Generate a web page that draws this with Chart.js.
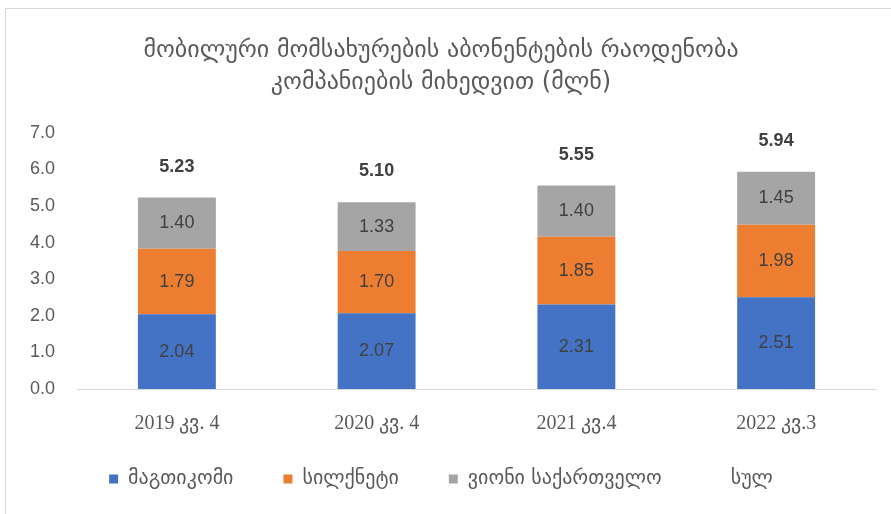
<!DOCTYPE html>
<html>
<head>
<meta charset="utf-8">
<script src="https://cdn.jsdelivr.net/npm/chart.js@4/dist/chart.umd.min.js"></script>
<style>
  html, body { margin: 0; padding: 0; background: #fff; overflow: hidden; }
  #frame { position: absolute; left: 5px; top: 8px; width: 900px; height: 520px; border: 1px solid #d9d9d9; box-sizing: border-box; }
  #wrap { position: absolute; left: 0; top: 0; width: 882px; height: 505px; }
</style>
</head>
<body>
<div id="frame"><div id="wrap"><canvas id="chart"></canvas></div></div>
<script>
var categories = ['2019 კვ. 4', '2020 კვ. 4', '2021 კვ.4', '2022 კვ.3'];
var magticom = [2.04, 2.07, 2.31, 2.51];
var silknet = [1.79, 1.70, 1.85, 1.98];
var veon = [1.40, 1.33, 1.40, 1.45];
var totals = [5.23, 5.10, 5.55, 5.94];
var yTicks = [0, 1, 2, 3, 4, 5, 6, 7];

var textGray = '#595959';
var labelGray = '#404040';
var geo = "'DejaVu Sans', 'Noto Sans', sans-serif";
var legendTrim = 20;

// segment values inside the bars, totals above the stacks
var valueLabels = {
  id: 'valueLabels',
  afterDatasetsDraw: function (chart) {
    var ctx = chart.ctx;
    ctx.save();
    ctx.textAlign = 'center';
    ctx.textBaseline = 'middle';
    ctx.fillStyle = labelGray;
    chart.data.datasets.forEach(function (ds, i) {
      var meta = chart.getDatasetMeta(i);
      meta.data.forEach(function (el, j) {
        if (ds.type === 'line') {
          ctx.font = 'bold 18px "Liberation Sans", Arial, sans-serif';
          ctx.fillText(ds.data[j].toFixed(2), el.x, el.y - 31);
        } else {
          ctx.font = '18px "Liberation Sans", Arial, sans-serif';
          ctx.fillText(ds.data[j].toFixed(2), el.x, (el.y + el.base) / 2);
        }
      });
    });
    ctx.restore();
  }
};

// wide legend spacing without the tall gap above it
var tightLegend = {
  id: 'tightLegend',
  afterInit: function (chart) {
    var legend = chart.legend;
    var fit = legend.fit;
    legend.fit = function () { fit.call(this); this.height -= legendTrim; };
  },
  afterLayout: function (chart) {
    chart.legend.top -= legendTrim;
    chart.legend.height += legendTrim;
  }
};

new Chart(document.getElementById('chart'), {
  type: 'bar',
  data: {
    labels: categories,
    datasets: [
      { label: 'მაგთიკომი', data: magticom, backgroundColor: '#4472c4' },
      { label: 'სილქნეტი', data: silknet, backgroundColor: '#ed7d31' },
      { label: 'ვიონი საქართველო', data: veon, backgroundColor: '#a5a5a5' },
      { type: 'line', label: 'სულ', data: totals, showLine: false, pointRadius: 0,
        backgroundColor: 'rgba(0,0,0,0)', borderColor: 'rgba(0,0,0,0)' }
    ]
  },
  options: {
    responsive: true,
    maintainAspectRatio: false,
    animation: false,
    datasets: { bar: { barPercentage: 0.39, categoryPercentage: 1 } },
    layout: { padding: { left: 0, right: 12, top: 0, bottom: 15 } },
    scales: {
      x: {
        stacked: true,
        afterFit: function (axis) { axis.height = 50; },
        grid: { display: false, drawTicks: false },
        border: { color: '#d9d9d9', width: 1 },
        ticks: { color: textGray, padding: 23, font: { family: "'Liberation Serif', serif", size: 20 } }
      },
      y: {
        stacked: true,
        min: 0,
        max: 7,
        afterBuildTicks: function (axis) { axis.ticks = yTicks.map(function (v) { return { value: v }; }); },
        afterFit: function (axis) { axis.width = 71; },
        grid: { display: false, drawTicks: false },
        border: { display: false },
        ticks: {
          color: textGray, padding: 22,
          font: { family: "'Liberation Sans', Arial, sans-serif", size: 18 },
          callback: function (v) { return Number(v).toFixed(1); }
        }
      }
    },
    plugins: {
      title: {
        display: true,
        text: ['მობილური მომსახურების აბონენტების რაოდენობა', 'კომპანიების მიხედვით (მლნ)'],
        color: textGray,
        font: { family: geo, size: 24, weight: 'normal', lineHeight: 1.33 },
        padding: { top: 26, bottom: 34 }
      },
      legend: {
        position: 'bottom',
        labels: {
          color: textGray,
          boxWidth: 9,
          boxHeight: 9,
          padding: 50,
          font: { family: geo, size: 20 }
        }
      },
      tooltip: { enabled: false }
    }
  },
  plugins: [valueLabels, tightLegend]
});
</script>
</body>
</html>
